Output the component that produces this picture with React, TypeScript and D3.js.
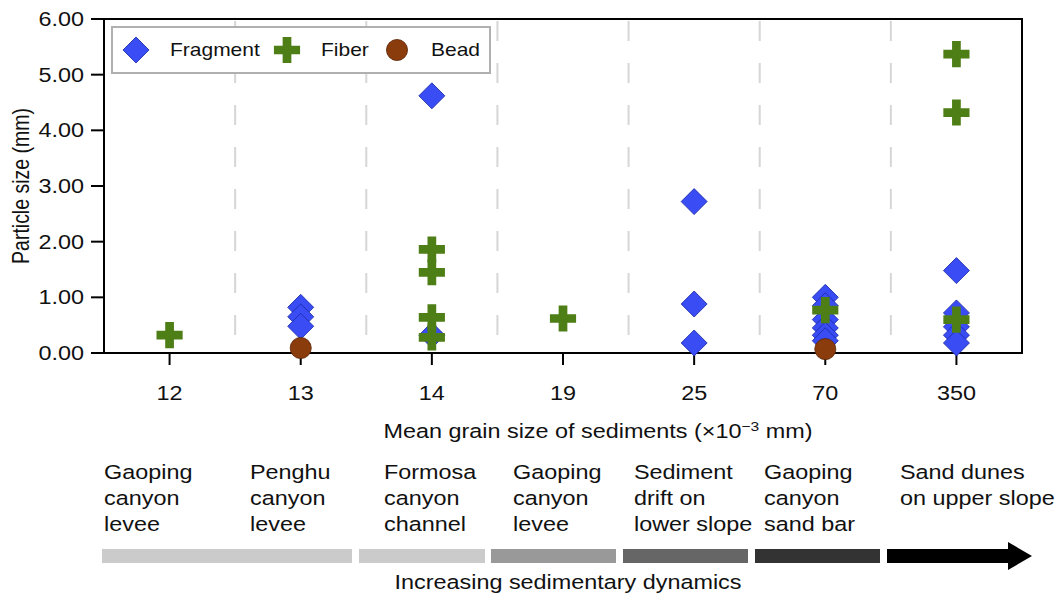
import React, { useEffect, useRef } from 'react';
import * as d3 from 'd3';

// Mean grain size categories (x axis)
const categories = ['12', '13', '14', '19', '25', '70', '350'];
const yTicks = [0, 1, 2, 3, 4, 5, 6];

// Particle sizes (mm), per grain size category
const fragment: [string, number][] = [
  ['13', 0.82], ['13', 0.65], ['13', 0.48],
  ['14', 4.62], ['14', 0.32],
  ['25', 2.72], ['25', 0.88], ['25', 0.18],
  ['70', 1.0], ['70', 0.85], ['70', 0.6], ['70', 0.45], ['70', 0.32], ['70', 0.22],
  ['350', 1.48], ['350', 0.72], ['350', 0.47], ['350', 0.32], ['350', 0.18],
];
const fiber: [string, number][] = [
  ['12', 0.32],
  ['14', 1.86], ['14', 1.45], ['14', 0.64], ['14', 0.28],
  ['19', 0.62],
  ['70', 0.77],
  ['350', 5.37], ['350', 4.32], ['350', 0.6],
];
const bead: [string, number][] = [
  ['13', 0.09],
  ['70', 0.07],
];

// Sedimentary environments under each category
const sites = [
  ['Gaoping', 'canyon', 'levee'],
  ['Penghu', 'canyon', 'levee'],
  ['Formosa', 'canyon', 'channel'],
  ['Gaoping', 'canyon', 'levee'],
  ['Sediment', 'drift on', 'lower slope'],
  ['Gaoping', 'canyon', 'sand bar'],
  ['Sand dunes', 'on upper slope'],
];

const W = 1062;
const H = 601;
const FONT = '"Liberation Sans", Arial, sans-serif';
const FS = 19.5;
const SX = 1.2; // the source text is a little wide

const BLUE = '#3a4cf4';
const GREEN = '#4e7e16';
const BROWN = '#8a3c0c';

const App = () => {
  const ref = useRef<SVGSVGElement>(null);

  useEffect(() => {
    const svg = d3.select(ref.current);
    svg.selectAll('*').remove();

    const left = 104, right = 1022, top = 19, bottom = 353;
    const x = d3.scaleBand().domain(categories).range([left, right]).padding(0);
    const y = d3.scaleLinear().domain([0, 6]).range([bottom, top]);
    const cx = (c: string) => (x(c) as number) + x.bandwidth() / 2;

    const text = (g: any, tx: number, ty: number, s: string, anchor = 'start', fs = FS) =>
      g.append('text')
        .attr('transform', `translate(${tx},${ty}) scale(${SX},1)`)
        .attr('text-anchor', anchor)
        .style('font-family', FONT)
        .style('font-size', `${fs}px`)
        .attr('fill', '#111')
        .text(s);

    // dashed separators between categories
    svg.append('g')
      .selectAll('line')
      .data(categories.slice(1))
      .join('line')
      .attr('x1', (d) => x(d) as number)
      .attr('x2', (d) => x(d) as number)
      .attr('y1', top + 2)
      .attr('y2', bottom)
      .attr('stroke', '#d6d6d6')
      .attr('stroke-width', 2)
      .attr('stroke-dasharray', '20,22');

    // frame
    svg.append('rect')
      .attr('x', left).attr('y', top)
      .attr('width', right - left).attr('height', bottom - top)
      .attr('fill', 'none').attr('stroke', '#000').attr('stroke-width', 2);

    // y axis ticks + labels
    const yg = svg.append('g');
    yTicks.forEach((t) => {
      yg.append('line')
        .attr('x1', left - 13).attr('x2', left)
        .attr('y1', y(t)).attr('y2', y(t))
        .attr('stroke', '#000').attr('stroke-width', 2);
      text(yg, left - 20, y(t) + 7, d3.format('.2f')(t), 'end');
    });

    // x axis ticks + labels
    const xg = svg.append('g');
    categories.forEach((c) => {
      xg.append('line')
        .attr('x1', cx(c)).attr('x2', cx(c))
        .attr('y1', bottom).attr('y2', bottom + 12)
        .attr('stroke', '#000').attr('stroke-width', 2);
      text(xg, cx(c), 400, c, 'middle');
    });

    // axis titles
    const xt = text(svg, 598, 438, '', 'middle');
    xt.append('tspan').text('Mean grain size of sediments (×10');
    xt.append('tspan').attr('font-size', '13px').attr('dy', -7).text('−3');
    xt.append('tspan').attr('dy', 7).text(' mm)');

    svg.append('text')
      .attr('transform', `translate(29,${(top + bottom) / 2}) rotate(-90) scale(1,${SX})`)
      .attr('text-anchor', 'middle')
      .style('font-family', FONT)
      .style('font-size', `${FS}px`)
      .attr('fill', '#111')
      .text('Particle size (mm)');

    // markers
    const diamond = d3.symbol(d3.symbolSquare, 338)();
    const cross = d3.symbol(d3.symbolCross, 380)();
    const circle = d3.symbol(d3.symbolCircle, 350)();

    const drawDiamond = (g: any, px: number, py: number) =>
      g.append('path').attr('d', diamond)
        .attr('transform', `translate(${px},${py}) rotate(45)`)
        .attr('fill', BLUE).attr('stroke', '#1c2aa8').attr('stroke-width', 0.8);
    const drawCross = (g: any, px: number, py: number) =>
      g.append('path').attr('d', cross)
        .attr('transform', `translate(${px},${py})`)
        .attr('fill', GREEN);
    const drawBead = (g: any, px: number, py: number) =>
      g.append('path').attr('d', circle)
        .attr('transform', `translate(${px},${py})`)
        .attr('fill', BROWN).attr('stroke', '#5a2406').attr('stroke-width', 0.8);

    const pts = svg.append('g');
    fragment.forEach(([c, v]) => drawDiamond(pts, cx(c), y(v)));
    fiber.forEach(([c, v]) => drawCross(pts, cx(c), y(v)));
    bead.forEach(([c, v]) => drawBead(pts, cx(c), y(v)));

    // legend
    const lg = svg.append('g');
    lg.append('rect')
      .attr('x', 112).attr('y', 27).attr('width', 378).attr('height', 46)
      .attr('fill', '#fff').attr('stroke', '#b0b0b0').attr('stroke-width', 2);
    drawDiamond(lg, 136, 50);
    text(lg, 170, 56, 'Fragment', 'start', 17.5);
    drawCross(lg, 287, 50);
    text(lg, 321, 56, 'Fiber', 'start', 17.5);
    drawBead(lg, 397, 50);
    text(lg, 431, 56, 'Bead', 'start', 17.5);

    // environment labels
    const siteX = [104, 250, 384, 513, 634, 764, 900];
    const sg = svg.append('g');
    sites.forEach((lines, i) => {
      lines.forEach((s, j) => text(sg, siteX[i], 479 + j * 26, s));
    });

    // dynamics bar
    const shades = ['#cbcbcb', '#cbcbcb', '#999999', '#666666', '#333333'];
    const segs = [[102, 352], [359, 485], [491, 616], [623, 748], [755, 880]];
    const bg = svg.append('g');
    segs.forEach(([a, b], i) => {
      bg.append('rect').attr('x', a).attr('y', 549).attr('width', b - a).attr('height', 14).attr('fill', shades[i]);
    });
    bg.append('path')
      .attr('d', 'M887,549 L1008,549 L1008,542 L1032,556 L1008,570 L1008,563 L887,563 Z')
      .attr('fill', '#000');
    text(svg, 568, 589, 'Increasing sedimentary dynamics', 'middle');
  }, []);

  return (
    <svg ref={ref} width={W} height={H} style={{ position: 'absolute', left: 0, top: 0, background: '#fff' }} />
  );
};

export default App;
